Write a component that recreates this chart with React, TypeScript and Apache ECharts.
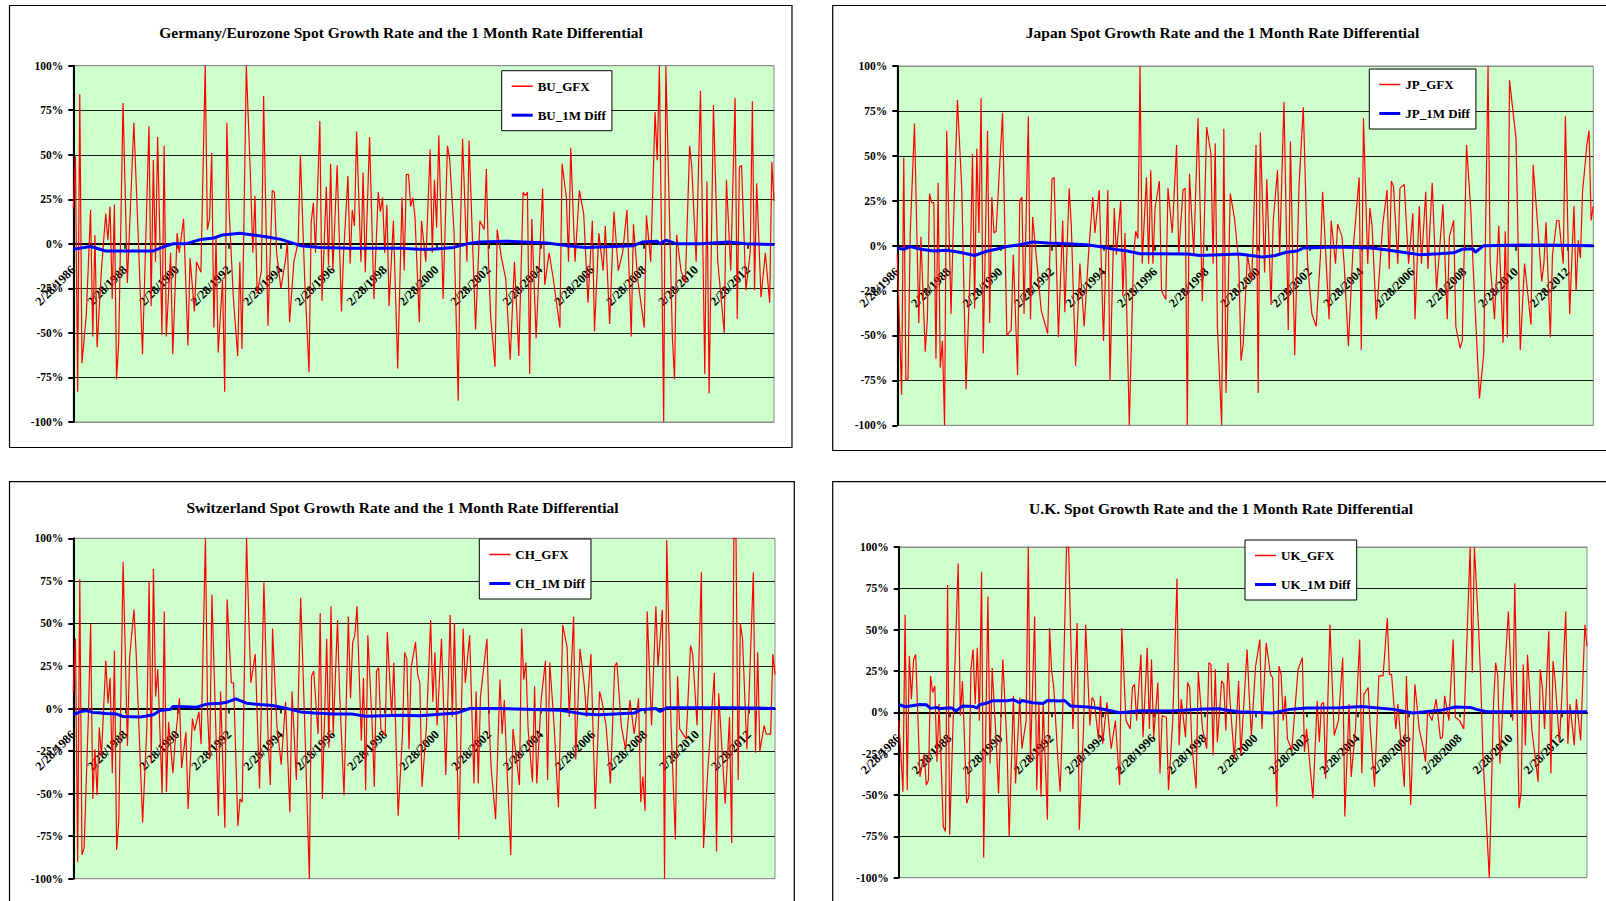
import React, { useEffect, useRef } from "react";
import * as echarts from "echarts";

const START_YEAR = 1986;
const N_MONTHS = 324;
const LABEL_STEP = 24;

// [month index from 2/28/1986, growth %]
const BU_GFX: [number, number][] = [
  [0, 20], [1, 49], [2, -83], [3, 84], [4, -67], [6, -40], [8, 19], [9, -52], [10, 5], [11, -58], [13, -15], [15, 17], [16, 2], [17, 21], [18, -31], [19, 22], [20, -76], [21, -55], [23, 79], [25, -22], [28, 68], [30, 5], [32, -62], [35, 66], [36, -35], [37, 47], [38, -10], [39, 60], [41, -51], [42, 55], [43, -52], [45, -5], [46, -62], [48, 6], [49, -5], [51, 14], [53, -57], [54, -8], [56, -38], [57, -10], [59, -16], [61, 100], [62, 8], [63, 14], [64, 51], [65, -47], [66, 3], [67, -61], [69, -20], [70, -83], [71, 68], [72, 20], [74, -30], [76, -63], [77, -10], [78, -59], [80, 100], [82, 35], [83, -5], [84, 27], [85, -28], [87, -15], [88, 83], [90, -46], [92, 30], [93, 29], [94, -5], [96, -25], [98, -10], [99, 1], [100, -44], [102, -10], [104, 1], [105, 50], [107, -20], [109, -72], [110, 12], [111, 23], [112, -5], [114, 69], [115, -32], [117, 32], [118, -12], [119, 45], [120, -15], [122, 44], [124, -38], [125, -5], [127, 38], [128, -11], [129, 19], [130, 10], [131, 63], [133, -10], [134, 40], [135, -16], [137, 60], [139, -31], [141, 29], [142, 18], [143, 26], [144, -5], [145, 22], [146, -35], [148, 13], [150, -70], [152, 26], [153, -15], [154, 39], [155, 39], [156, 21], [157, 26], [158, 15], [160, -44], [161, 13], [163, -10], [165, 53], [166, -5], [167, 36], [168, 9], [169, 61], [171, -31], [173, 55], [174, 48], [176, 8], [178, -88], [179, 9], [180, 59], [182, -10], [183, 58], [186, -48], [188, 13], [190, 8], [191, 42], [192, -10], [193, -41], [195, -69], [196, 8], [198, -8], [200, -20], [202, -65], [204, -10], [206, -63], [208, 29], [209, 27], [210, 29], [211, -73], [212, 14], [214, -53], [217, 31], [218, -23], [220, -5], [222, -20], [225, -47], [226, 45], [228, 26], [229, -10], [230, 54], [232, -10], [234, 30], [236, 17], [238, -33], [240, 13], [241, -49], [243, 6], [245, -15], [246, 10], [248, -45], [250, 18], [252, -15], [254, -5], [256, 19], [258, -52], [259, 11], [261, -20], [264, -47], [265, 16], [267, -10], [269, 74], [270, 47], [271, 100], [273, -100], [274, 100], [277, -52], [278, -76], [279, 5], [281, -15], [283, -22], [285, 55], [286, 43], [288, -10], [290, 86], [292, -73], [293, 35], [294, -84], [296, 78], [298, -10], [301, -50], [302, 36], [304, -15], [306, 82], [307, -42], [308, 43], [309, 44], [311, -26], [313, -5], [314, 80], [315, -26], [316, 34], [318, -30], [320, -5], [322, -33], [323, 46], [324, 24],
];
const BU_DIFF: [number, number][] = [
  [0, -3], [8, -1.5], [15, -4], [22, -4], [28, -4], [34, -4], [37, -4], [42, -1.5], [46, 0], [52, 0], [59, 2.5], [65, 3.3], [69, 5], [77, 6], [83, 5], [89, 4], [96, 2.5], [100, 1], [105, -1], [114, -2], [128, -2.4], [151, -2.4], [160, -3], [166, -3], [176, -2], [182, 0], [188, 1], [200, 1.5], [219, 0.5], [228, -1], [237, -2], [259, -1], [263, 1], [270, 1.5], [271, 0], [274, 2], [279, 0], [290, 0], [303, 1], [311, 0], [324, -0.3],
];

const JP_GFX: [number, number][] = [
  [0, -5], [2, -83], [3, 49], [4, -75], [5, -74], [6, 6], [8, 68], [10, -43], [11, 5], [13, -59], [14, -41], [15, 29], [16, 24], [17, 24], [18, -63], [19, 35], [20, -68], [21, -53], [22, -100], [23, 64], [25, -38], [26, 7], [28, 81], [30, 32], [32, -80], [34, -10], [35, 51], [36, -35], [37, 54], [38, 7], [39, 82], [40, -60], [42, 64], [43, -43], [44, 27], [45, 7], [46, 8], [49, 74], [51, -50], [53, -47], [54, -5], [56, -72], [57, 25], [58, 27], [59, -38], [61, 72], [62, -41], [63, 16], [65, -10], [67, -36], [70, -49], [72, 37], [73, 38], [75, -51], [77, 14], [78, -37], [80, 32], [81, 11], [83, -67], [85, -10], [87, -45], [89, -5], [91, 27], [92, 7], [94, 31], [96, -53], [98, 31], [99, -75], [101, 21], [102, -5], [104, 25], [105, -28], [106, 7], [108, -100], [110, -5], [111, 8], [112, 4], [113, 100], [114, -10], [115, 15], [116, 38], [117, -10], [118, 42], [119, -10], [120, 21], [122, 36], [123, -25], [125, -30], [126, 32], [128, 7], [130, 56], [131, -5], [133, 31], [134, 32], [135, -100], [136, 40], [138, -5], [140, 71], [142, -31], [144, 66], [146, 51], [147, -10], [148, 57], [149, -45], [151, -100], [152, 65], [153, -82], [155, 29], [157, 15], [159, -10], [160, -64], [161, -55], [163, -5], [165, -20], [167, 56], [168, -82], [169, 63], [171, -15], [172, 37], [174, -33], [175, 14], [177, 42], [178, -5], [180, 80], [182, -47], [183, 58], [185, -61], [187, 33], [189, 77], [191, -10], [193, -38], [195, -45], [197, -5], [198, 30], [201, -41], [202, 14], [204, -10], [205, 12], [207, 5], [208, -10], [210, -56], [212, -5], [215, 38], [216, -58], [217, 71], [219, -10], [220, 21], [221, 11], [223, -41], [225, -5], [226, 12], [228, 31], [229, -13], [230, 36], [231, 33], [233, -10], [234, 32], [236, 34], [238, -10], [240, 18], [241, -41], [243, 22], [244, -10], [246, 30], [247, -13], [249, 35], [251, -25], [254, 23], [256, -41], [257, 5], [259, 14], [260, -45], [262, -57], [263, -53], [265, 56], [267, 19], [268, -10], [271, -85], [273, -60], [275, 100], [276, -10], [278, -41], [280, 11], [282, -54], [283, 8], [284, -51], [285, 92], [288, 60], [290, -58], [292, -10], [295, -44], [296, 45], [298, 13], [300, -20], [301, -10], [302, 13], [304, -51], [305, -5], [307, 14], [308, 14], [310, -10], [311, 72], [313, -38], [315, 22], [316, -25], [317, 3], [318, -7], [319, 30], [321, 56], [322, 64], [323, 14], [324, 22],
];
const JP_DIFF: [number, number][] = [
  [0, -1.3], [3, -2], [6, -0.5], [11, -2], [17, -3], [23, -2.6], [29, -3.7], [36, -5.5], [42, -3], [46, -2], [51, -0.5], [57, 0.5], [63, 2], [70, 1.5], [79, 1], [88, 0.5], [94, -0.5], [101, -2], [107, -3], [113, -4.5], [119, -4.5], [135, -4.6], [141, -5.5], [150, -5], [159, -4.6], [170, -6.3], [176, -5.5], [181, -3.7], [186, -3], [189, -1.3], [206, -0.7], [221, -1.3], [229, -2.6], [237, -4], [243, -5], [252, -4.5], [259, -4], [263, -2], [268, -1.7], [269, -3.7], [273, 0], [299, 0.4], [324, 0],
];

const CH_GFX: [number, number][] = [
  [0, 10], [1, 41], [2, -90], [3, 76], [4, -86], [5, -82], [7, -3], [8, 50], [9, -53], [10, -24], [11, -51], [12, -11], [13, -28], [15, 28], [16, 3], [17, 18], [18, -38], [19, 34], [20, -83], [21, -66], [23, 86], [25, -22], [26, 30], [28, 58], [29, 33], [32, -67], [34, -10], [35, 75], [36, -32], [37, 82], [38, 7], [39, 23], [41, -50], [42, 57], [43, -49], [44, -8], [46, -38], [47, -20], [49, 6], [50, -35], [52, -14], [53, -59], [55, -6], [56, -13], [58, -2], [59, -21], [61, 100], [62, -2], [63, -30], [64, 67], [66, -20], [67, -63], [68, 10], [70, -70], [71, 64], [73, 15], [74, 15], [76, -69], [77, -53], [78, -55], [80, 100], [81, 54], [82, 15], [84, 32], [86, -47], [88, 74], [90, -20], [91, -45], [92, 47], [94, -10], [96, -33], [98, 4], [100, -61], [101, 10], [103, -42], [105, 65], [107, -15], [109, -100], [110, 19], [111, 22], [113, -15], [114, 56], [115, -53], [117, 41], [118, -23], [119, 60], [120, -15], [122, 52], [123, 8], [125, -51], [127, 54], [128, 6], [129, 39], [130, 43], [131, 60], [133, -19], [134, 18], [135, -48], [136, 43], [138, -10], [139, -46], [140, 22], [141, 24], [142, -12], [144, -16], [145, 45], [147, -5], [148, 27], [150, -63], [152, -15], [153, 33], [154, 29], [155, -24], [156, 24], [158, 39], [159, 20], [160, 15], [161, -46], [163, -12], [165, 52], [166, 4], [167, 33], [168, -10], [170, 41], [172, -39], [174, 55], [175, -5], [176, 50], [178, -77], [180, 47], [181, 15], [183, 43], [185, -44], [186, 10], [187, -44], [188, 7], [191, 41], [192, -10], [193, -36], [195, -65], [197, 17], [198, -15], [199, 5], [200, -28], [202, -86], [203, -12], [206, -45], [207, 47], [208, 17], [209, 27], [210, -12], [212, -43], [213, 13], [214, -44], [216, 5], [218, 28], [219, -42], [220, 27], [222, -10], [224, -58], [226, 49], [228, 36], [229, -5], [231, 54], [232, -30], [234, 35], [236, 13], [237, -5], [239, 32], [241, -59], [243, 10], [244, 5], [246, -10], [248, -44], [250, 25], [251, 27], [253, -10], [255, -24], [257, 5], [259, -15], [261, 6], [262, -55], [263, -40], [264, -60], [265, 57], [267, -10], [269, 60], [270, 25], [272, 58], [273, -100], [274, 99], [276, -10], [278, -77], [279, 19], [280, -12], [283, -18], [285, 37], [286, 32], [288, -10], [290, 80], [291, -82], [293, -36], [296, 21], [297, -84], [298, 9], [301, -56], [303, -5], [304, -79], [305, 100], [306, 100], [307, -42], [308, 50], [309, 41], [311, -24], [312, 7], [314, 80], [315, -26], [316, 33], [317, -25], [319, -10], [320, -15], [322, -15], [323, 32], [324, 20],
];
const CH_DIFF: [number, number][] = [
  [0, -3.7], [3, -2], [6, -1.2], [9, -2.3], [12, -2.5], [15, -3], [20, -3.3], [23, -4.7], [31, -5], [37, -3.7], [40, -1.2], [45, -0.4], [46, 1.2], [52, 1], [57, 0.8], [62, 2.7], [68, 3.1], [71, 3.7], [75, 5.7], [80, 3.1], [86, 2.3], [92, 1.8], [98, 0.2], [105, -2], [111, -2.7], [120, -3.3], [129, -3.3], [135, -4.5], [151, -4], [160, -4.3], [166, -3.7], [177, -2.7], [183, 0], [197, 0], [225, -1], [236, -3.3], [243, -3.7], [259, -2.7], [262, -0.7], [269, 0], [271, -1.8], [274, 0.4], [305, 0.4], [324, 0],
];

const UK_GFX: [number, number][] = [
  [0, -5], [1, -25], [2, -48], [3, 59], [4, -47], [5, 34], [6, 8], [7, 32], [8, 35], [10, -39], [12, -25], [13, -44], [14, -41], [15, 22], [16, 12], [17, 16], [18, -30], [19, 5], [21, -69], [22, -72], [23, 77], [24, -74], [26, 10], [28, 90], [29, -2], [30, 19], [32, -55], [33, -51], [34, 26], [35, 38], [36, 5], [37, 39], [38, -5], [39, 85], [40, -88], [42, 70], [43, -31], [44, 27], [46, -20], [47, -49], [49, 32], [51, -20], [52, -75], [54, 10], [55, -43], [57, 9], [58, -22], [60, -5], [61, 100], [62, -30], [64, 58], [65, -47], [66, 5], [67, -51], [68, 6], [70, -65], [71, 51], [72, 25], [73, 15], [75, -30], [76, -48], [77, -10], [79, 100], [80, 100], [82, -10], [84, 54], [85, -71], [87, -10], [88, 53], [90, -8], [91, 9], [92, 7], [94, -16], [95, 10], [96, -19], [98, 6], [100, -22], [102, -5], [104, -44], [105, 51], [107, -5], [109, -10], [110, 15], [111, 17], [112, -5], [114, 35], [115, -15], [117, 39], [118, -10], [119, 32], [120, -15], [122, 18], [123, -37], [124, -2], [126, -3], [127, -47], [129, -5], [131, 81], [132, -20], [133, 8], [135, -15], [136, 18], [137, 15], [138, -20], [140, -46], [141, 25], [143, -10], [145, -22], [146, 30], [147, 29], [148, -26], [149, 26], [150, -18], [152, 19], [153, 17], [154, -11], [155, 30], [156, 6], [158, -28], [160, 19], [161, -26], [162, -5], [164, 38], [165, 10], [166, -14], [168, 28], [170, 44], [171, -10], [173, 42], [175, 23], [176, 21], [178, -57], [179, 28], [180, 23], [181, -5], [182, 10], [183, -16], [185, -23], [188, 26], [190, 33], [191, -24], [192, -10], [195, -52], [197, 7], [198, -18], [199, 5], [200, 6], [201, -40], [203, 53], [205, -14], [207, -5], [209, 33], [210, -63], [212, 5], [213, -39], [215, -10], [217, 44], [218, -37], [219, 11], [221, 15], [222, -10], [224, -45], [226, 22], [228, 22], [230, 57], [231, 23], [232, 23], [234, -10], [235, 5], [238, -45], [239, 22], [241, -56], [243, 17], [245, -10], [247, -22], [248, -30], [249, 1], [251, -5], [253, 8], [255, -16], [256, -15], [257, 10], [259, -5], [261, 44], [262, -3], [264, -5], [266, -10], [269, 100], [270, 24], [271, 100], [273, 50], [274, 18], [275, -26], [278, -100], [280, 5], [281, 30], [282, 22], [283, -31], [285, 19], [287, 61], [289, -5], [290, 78], [292, -58], [293, -48], [294, 29], [295, -20], [296, 35], [298, -10], [301, -42], [302, 26], [303, 15], [304, -10], [306, 49], [307, -37], [308, 31], [309, 19], [311, -18], [312, 5], [314, 61], [315, -19], [316, 5], [318, -20], [319, 8], [321, -17], [323, 53], [324, 40],
];
const UK_DIFF: [number, number][] = [
  [0, 4.8], [3, 3.4], [7, 4.2], [10, 4.8], [13, 4.6], [15, 2.4], [18, 3], [19, 2.2], [23, 2.6], [25, 2.6], [27, 0.8], [30, 3.8], [35, 3.6], [37, 2.6], [38, 4.6], [42, 5.8], [44, 7], [51, 7], [54, 7.6], [57, 5.8], [58, 7.2], [63, 5.8], [68, 5.4], [70, 7.2], [76, 6.8], [78, 7.2], [81, 3.8], [89, 3.2], [93, 2.6], [98, 1.4], [104, -0.2], [114, 1], [128, 0.8], [136, 1.4], [144, 2], [151, 2.2], [154, 1.4], [160, 0.4], [176, -0.4], [184, 1.8], [192, 2.6], [208, 2.8], [218, 3.6], [223, 3], [233, 1.8], [242, -0.4], [255, 1.2], [262, 3.2], [269, 3], [272, 1.8], [277, 0.4], [324, 0.4],
];

const Y_TICKS = [-100, -75, -50, -25, 0, 25, 50, 75, 100];

const FONT = "'Liberation Serif', 'Times New Roman', serif";
const THIN_ICON = "path://M0,0h28v2h-28z";
const THICK_ICON = "path://M0,0h21v3h-21z";

type Panel = {
  title: string;
  gfxName: string;
  diffName: string;
  gfx: [number, number][];
  diff: [number, number][];
  grid: { left: number; top: number; width: number; height: number };
  legend: { left: number; top: number };
  titlePos: { x: number; y: number };
  border: { x: number; y: number; w: number; h: number };
};

const PANELS: Panel[] = [
  {
    title: "Germany/Eurozone Spot Growth Rate and the 1 Month Rate Differential",
    gfxName: "BU_GFX",
    diffName: "BU_1M Diff",
    gfx: BU_GFX,
    diff: BU_DIFF,
    grid: { left: 73.3, top: 65.7, width: 700.7, height: 356.3 },
    legend: { left: 501.7, top: 70.7 },
    titlePos: { x: 401, y: 24 },
    border: { x: 9.5, y: 5.5, w: 782.5, h: 442 },
  },
  {
    title: "Japan Spot Growth Rate and the 1 Month Rate Differential",
    gfxName: "JP_GFX",
    diffName: "JP_1M Diff",
    gfx: JP_GFX,
    diff: JP_DIFF,
    grid: { left: 897.3, top: 66, width: 696, height: 359.3 },
    legend: { left: 1369.3, top: 69 },
    titlePos: { x: 1222.5, y: 24.5 },
    border: { x: 832.7, y: 5.5, w: 800, h: 445 },
  },
  {
    title: "Switzerland Spot Growth Rate and the 1 Month Rate Differential",
    gfxName: "CH_GFX",
    diffName: "CH_1M Diff",
    gfx: CH_GFX,
    diff: CH_DIFF,
    grid: { left: 73.3, top: 538.3, width: 701.7, height: 340.4 },
    legend: { left: 479.3, top: 539 },
    titlePos: { x: 402.5, y: 499.5 },
    border: { x: 9.5, y: 481.7, w: 784.8, h: 460 },
  },
  {
    title: "U.K. Spot Growth Rate and the 1 Month Rate Differential",
    gfxName: "UK_GFX",
    diffName: "UK_1M Diff",
    gfx: UK_GFX,
    diff: UK_DIFF,
    grid: { left: 898.7, top: 547, width: 688.3, height: 330.7 },
    legend: { left: 1245, top: 540 },
    titlePos: { x: 1221, y: 500.5 },
    border: { x: 832.7, y: 481.7, w: 800, h: 460 },
  },
];

function buildOption() {
  const splitColors = Y_TICKS.map((v) => (Math.abs(v) === 100 ? "#8c8c8c" : "#1a1a1a"));
  return {
    animation: false,
    backgroundColor: "#ffffff",
    title: PANELS.map((p) => ({
      text: p.title,
      left: p.titlePos.x,
      top: p.titlePos.y,
      textAlign: "center",
      padding: 0,
      textStyle: { fontFamily: FONT, fontWeight: "bold", fontSize: 15.5, color: "#000" },
    })),
    legend: PANELS.map((p) => ({
      data: [
        { name: p.gfxName, icon: THIN_ICON },
        { name: p.diffName, icon: THICK_ICON },
      ],
      orient: "vertical",
      left: p.legend.left,
      top: p.legend.top,
      backgroundColor: "#ffffff",
      borderColor: "#000",
      borderWidth: 1,
      padding: [9, 6, 9, 10],
      itemGap: 16,
      itemWidth: 21,
      itemHeight: 14,
      selectedMode: false,
      textStyle: { fontFamily: FONT, fontWeight: "bold", fontSize: 13, color: "#000" },
    })),
    grid: PANELS.map((p) => ({
      ...p.grid,
      show: true,
      backgroundColor: "#CCFFCC",
      borderColor: "#8c8c8c",
      borderWidth: 1,
    })),
    xAxis: PANELS.map((p, k) => ({
      gridIndex: k,
      type: "value",
      position: "bottom",
      offset: -p.grid.height / 2,
      min: 0,
      max: N_MONTHS,
      interval: LABEL_STEP,
      axisLine: { onZero: false, lineStyle: { color: "#000", width: 2 } },
      axisTick: { show: true, length: 5, lineStyle: { color: "#000", width: 1.5 } },
      splitLine: { show: false },
      axisLabel: {
        rotate: 45,
        margin: 24,
        showMaxLabel: false,
        hideOverlap: false,
        fontFamily: FONT,
        fontWeight: "bold",
        fontSize: 12.5,
        color: "#000",
        formatter: (v: number) => (v % LABEL_STEP === 0 ? `2/28/${START_YEAR + v / 12}` : ""),
      },
    })),
    yAxis: PANELS.map((_, k) => ({
      gridIndex: k,
      type: "value",
      min: -100,
      max: 100,
      interval: 25,
      axisLine: { show: true, onZero: false, lineStyle: { color: "#000", width: 2 } },
      axisTick: { show: true, length: 5, lineStyle: { color: "#000", width: 2 } },
      splitLine: { show: true, lineStyle: { color: splitColors, width: 1 } },
      axisLabel: {
        margin: 10,
        fontFamily: FONT,
        fontWeight: "bold",
        fontSize: 11.5,
        color: "#000",
        formatter: "{value}%",
      },
    })),
    series: PANELS.flatMap((p, k) => [
      {
        name: p.gfxName,
        type: "line",
        xAxisIndex: k,
        yAxisIndex: k,
        data: p.gfx,
        symbol: "none",
        showSymbol: false,
        clip: true,
        lineStyle: { color: "#FF0000", width: 1.2 },
        itemStyle: { color: "#FF0000" },
        z: 2,
      },
      {
        name: p.diffName,
        type: "line",
        xAxisIndex: k,
        yAxisIndex: k,
        data: p.diff,
        symbol: "none",
        showSymbol: false,
        clip: true,
        lineStyle: { color: "#0000FF", width: 3 },
        itemStyle: { color: "#0000FF" },
        z: 3,
      },
    ]),
    graphic: PANELS.map((p) => ({
      type: "rect",
      silent: true,
      z: -10,
      shape: { x: p.border.x, y: p.border.y, width: p.border.w, height: p.border.h },
      style: { fill: "none", stroke: "#000", lineWidth: 1.2 },
    })),
  };
}

export default function App() {
  const ref = useRef<HTMLDivElement>(null);
  useEffect(() => {
    if (!ref.current) return;
    const chart = echarts.init(ref.current, undefined, { renderer: "svg" });
    chart.setOption(buildOption() as any);
    return () => chart.dispose();
  }, []);
  return (
    <div
      ref={ref}
      style={{ position: "fixed", left: 0, top: 0, width: 1606, height: 901, background: "#fff" }}
    />
  );
}
